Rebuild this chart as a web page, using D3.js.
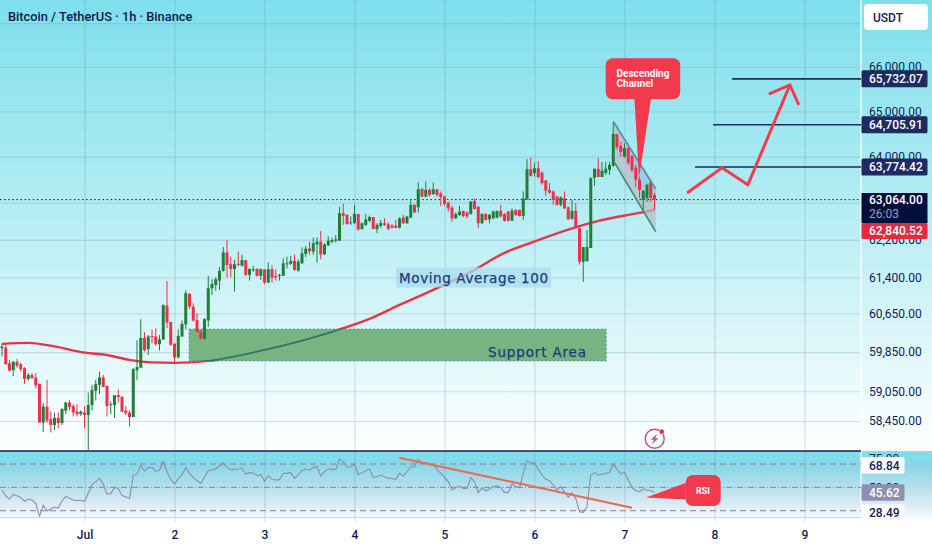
<!DOCTYPE html>
<html>
<head>
<meta charset="utf-8">
<title>Bitcoin / TetherUS 1h</title>
<style>
  html, body { margin: 0; padding: 0; background: #fff; }
  svg { display: block; font-family: Roboto, sans-serif; }
  .priceAxis path, .priceAxis line, .rsiAxis path, .rsiAxis line, .timeAxis path, .timeAxis line { display: none; }
  .grid path { display: none; }
  .grid line { stroke: #5f8aa0; stroke-opacity: 0.24; stroke-width: 1.2; }
  .note { font-family: "DejaVu Sans", sans-serif; font-size: 13.5px; fill: #1d3a78; font-weight: 500; stroke: #1d3a78; stroke-width: 0.25; }
</style>
<script src="https://d3js.org/d3.v7.min.js"></script>
</head>
<body>
<svg id="chart" width="932" height="550"></svg>
<script>
// hours counted from 1 Jul 00:00, first candle is hour -22
var firstHour = -22;

var opens = [59930,59940,59620,59480,59650,59600,59520,59300,59380,59330,59200,58420,58740,58490,58370,58510,58410,58660,58820,58750,58640,58590,
  58620,58570,58770,59060,59180,59330,59160,58770,58770,58970,58940,58660,58620,58530,59480,59530,60140,59910,60180,60170,60010,60110,60810,60470,60020,59740,60170,60420,61060,60790,60510,60270,60120,
  60500,61175,61245,61335,61540,61930,61680,61580,61690,61650,61765,61455,61560,61580,61435,61570,61295,61575,61435,61435,61435,61690,61690,61750,61545,61700,61900,62015,61950,62100,62160,61890,62080,62160,62180,62180,
  62770,62735,62555,62560,62755,62430,62520,62605,62685,62430,62495,62555,62535,62505,62505,62460,62675,62555,62675,62950,62900,63290,63130,63275,63185,63290,63200,63130,63000,62890,62660,62735,62820,62785,62755,63035,62915,62555,62755,62640,62660,62675,62820,62750,62805,62610,62840,62840,62710,63070,
  63725,63640,63745,63650,63480,63275,63240,63130,62950,63090,62900,62650,62820,62450,61730,61745,62025,63540,63735,63555,63645,63710,63800,64500,64235,63995,64190,64015,63755,63495,63055,63100,63450,63165];
var highs = [60030,60000,59690,59670,59710,59630,59540,59420,59420,59420,59200,58810,59280,58640,58620,58620,58710,58840,58870,58790,58790,58660,
  58750,59020,59180,59280,59450,59380,59160,58840,58970,59090,58940,58750,58660,59520,60090,60530,60260,60200,60310,60340,60200,60840,61330,60470,60030,60320,60500,61130,61070,60860,60650,60310,60550,
  61435,61365,61405,61620,62050,62195,61840,61770,61950,61880,61765,61595,61645,61595,61595,61570,61720,61660,61575,61480,61805,61840,61855,61890,61785,62040,62065,62160,62250,62250,62390,62125,62280,62245,62300,62910,
  62970,62750,62700,62950,62755,62570,62755,62720,62685,62555,62625,62660,62575,62540,62625,62685,62735,62710,63070,62965,63435,63325,63455,63310,63435,63295,63240,63150,63020,62935,62785,62925,62820,62805,63035,63090,62915,62770,62770,62755,62825,62825,62950,62770,62820,62875,62855,62855,63240,63945,
  63980,63870,63905,63675,63490,63420,63260,63145,63130,63240,62915,63060,62990,62450,62045,62410,63540,63735,63975,63885,63885,63885,64770,64500,64325,64300,64235,64040,63820,63560,63275,63405,63495,63210];
var lows = [59760,59590,59450,59360,59530,59450,59200,59260,59300,59110,58420,58230,58410,58220,58270,58310,58370,58590,58660,58540,58540,58550,
  58310,57870,58660,58860,58990,59130,58540,58590,58510,58820,58630,58570,58340,58530,59280,59520,59860,59790,60030,59980,59880,60100,60340,59980,59610,59720,60160,60310,60740,60480,60250,60100,60110,
  60370,61035,61125,61140,61525,61400,61405,61105,61630,61630,61435,61335,61520,61420,61350,61260,61280,61295,61335,61335,61435,61595,61665,61545,61525,61690,61830,61880,61880,61715,61785,61880,62065,62125,62145,62180,
  62520,62520,62520,62540,62390,62410,62495,62590,62425,62340,62460,62495,62410,62445,62445,62445,62540,62540,62660,62770,62785,63115,63115,63130,63165,63130,62925,62925,62805,62590,62645,62710,62685,62660,62735,62855,62445,62540,62610,62555,62640,62660,62675,62590,62590,62605,62710,62700,62625,63055,
  63565,63565,63530,63385,63145,63185,62950,62935,62915,62860,62625,62630,62450,61670,61310,61740,62025,63360,63555,63555,63600,63600,63780,64150,63995,63975,63820,63665,63340,63100,62775,63015,63015,62840];
var closes = [59960,59600,59470,59650,59570,59500,59300,59380,59320,59170,58420,58740,58460,58370,58510,58410,58690,58820,58730,58620,58590,58640,
  58570,58770,59080,59200,59330,59140,58750,58790,58970,58930,58640,58610,58530,59500,59540,60140,59890,60170,60170,60010,60110,60820,60460,60000,59740,60180,60430,61070,60790,60500,60260,60120,60530,
  61175,61265,61365,61540,61930,61665,61580,61680,61675,61770,61455,61580,61575,61435,61575,61295,61575,61400,61405,61455,61700,61700,61750,61560,61735,61910,62010,61960,62125,62160,61890,62100,62180,62195,62210,62770,
  62710,62540,62575,62755,62425,62555,62640,62685,62430,62520,62555,62520,62430,62460,62460,62660,62555,62700,62950,62785,63290,63130,63275,63165,63290,63165,63115,62970,62875,62660,62755,62805,62710,62700,63020,62860,62555,62755,62625,62735,62805,62820,62700,62605,62605,62825,62735,62710,63090,63725,
  63580,63745,63550,63420,63260,63215,63055,62950,63115,62875,62640,62820,62450,61730,62045,62045,63537,63735,63555,63690,63735,63820,64500,64210,64105,64190,63865,63710,63495,63275,63255,63385,63100,63064];

// moving average 100, read at a few hours along the curve
var maHours = [-22,-15,-8,0,6,12,18,24,33,48,66,76,84,93,103,112,119,129,137,148,152];
var maValues = [60017,60038,59965,59837,59790,59688,59637,59627,59668,59892,60266,60535,60825,61140,61520,61920,62134,62417,62605,62777,62840.52];

var rsiValues = [47.7,42.6,40,44,42.9,41.4,38,39.7,39.1,36.3,25.4,34.6,29.7,31.4,33.1,32.3,38.3,42.3,40.6,39.1,38.6,38.9,
  38,44.9,52.3,54.9,57.7,52.9,44.3,44.6,50,49.1,42.9,42,40.3,60.3,61.1,68.9,64,66.9,66.9,63.7,64.9,72.3,63.4,56.9,52.9,57.7,60.9,67.1,62,58.3,55.7,53.4,58.6,
  64.3,64.9,66,68.3,71.1,67.1,65.1,65.4,65.7,66.3,61.4,62.6,62.3,60,61.1,55.1,60,56.9,56.3,56.6,62,62,62.6,57.7,60.6,64.3,65.7,64.9,66.9,67.7,59.7,63.4,65.7,65.4,65.4,74.3,
  72,67.4,67.7,70,61.1,62.6,64,65.7,58.3,59.1,60.3,59.1,57.7,57.7,56.9,62,59.7,63.4,67.7,67.7,73.4,70,71.1,70,70,65.4,62,58.6,54.9,47.7,49.7,51.1,49.1,49.1,58.3,54.9,45.4,49.7,47.1,48.6,50.6,51.4,49.7,45.7,45.4,52.9,50.6,49.7,62,72.6,
  70.6,71.1,65.4,60.6,56.9,55.7,52,47.7,50.6,46.3,41.4,45.4,40.6,29.1,28.6,33.4,60.6,62.6,60.6,61.1,62,62.9,69.7,65.4,61.4,63.1,56.3,50,47.1,46.3,48.6,47.7,47.1,45.62];

var priceTicks = [67000,66000,65000,64000,63000,62200,61400,60650,59850,59050,58450];
var dayHours = [0,24,48,72,96,120,144,168,192];
var dayLabels = ["Jul","2","3","4","5","6","7","8","9"];
var rsiTicks = [75,50];
var rsiLevels = [70,50,30];

var lastPrice = 63064, maLast = 62840.52;
var targetLevels = [65732.07,64705.91,63774.42];
var targetStarts = [172.7,167.6,162.8];
var rsiLabels = [68.84,45.62,28.49];

// projected path and its arrow head, [hour, price]
var pathPoints = [[160.7,63209],[170,63755],[176.9,63384],[188.1,65594]];
var headPoints = [[182.5,65391],[188.1,65594],[190.5,65145]];
// channel corners, [hour, price]
var channelTop = [[141,64775],[152.3,63297]];
var channelBottom = [[141.4,63864],[152.3,62375]];
// bluish part of the channel under its top edge
var channelGlow = [[144.1,64258],[152.3,63297],[152.3,63100],[148,63493]];
// support zone, hours and prices
var zoneHours = [27.9,139.1], zonePrices = [60322,59668];
// rsi trend line, [hour, rsi]
var rsiTrend = [[83.9,75.4],[146,32.6]];

var svg = d3.select("#chart");
var axisX = 861, paneBottom = 451;

var x = d3.scaleLinear().domain([0,24]).range([84.5,174.5]);
var y = d3.scaleLog().domain([58450,66000]).range([421,67]);
var rsiY = d3.scaleLinear().domain([30,70]).range([510.7,464]);

var defs = svg.append("defs");

function gradient(id, stops) {
  var g = defs.append("linearGradient").attr("id", id).attr("x1",0).attr("x2",0).attr("y1",0).attr("y2",1);
  stops.forEach(function(s) { g.append("stop").attr("offset", s[0]).attr("stop-color", s[1]); });
}
gradient("mainBg", [[0,"#7edfec"],[0.5,"#b9eef4"],[1,"#ffffff"]]);
gradient("rsiBg", [[0,"#7ee0ea"],[0.2,"#88d6e8"],[0.55,"#b8e0ee"],[0.85,"#e6eef7"],[1,"#f8fbfc"]]);

defs.append("clipPath").attr("id","pane").append("rect").attr("width",axisX).attr("height",paneBottom);
defs.append("clipPath").attr("id","rsiPane").append("rect").attr("y",paneBottom).attr("width",axisX).attr("height",70);
defs.append("clipPath").attr("id","zoneClip").append("rect")
  .attr("x",x(zoneHours[0])).attr("y",y(zonePrices[0]))
  .attr("width",x(zoneHours[1])-x(zoneHours[0])).attr("height",y(zonePrices[1])-y(zonePrices[0]));

// backgrounds
svg.append("rect").attr("width",932).attr("height",paneBottom).attr("fill","url(#mainBg)");
svg.append("rect").attr("y",paneBottom).attr("width",932).attr("height",68).attr("fill","url(#rsiBg)");

// grid, done with axes with long ticks
svg.append("g").attr("class","grid")
  .attr("transform","translate(0,522)")
  .call(d3.axisBottom(x).tickValues(dayHours).tickSize(-522).tickFormat(""));
svg.append("g").attr("class","grid")
  .attr("clip-path","url(#pane)")
  .call(d3.axisRight(y).tickValues(priceTicks).tickSize(axisX).tickFormat(""));

svg.append("line").attr("x1",axisX).attr("x2",axisX).attr("y1",0).attr("y2",520)
  .attr("stroke","#fff").attr("stroke-width",1.2);

var pane = svg.append("g").attr("clip-path","url(#pane)");

// moving average, red over the whole length
var maPoints = maHours.map(function(h,i) { return [h, maValues[i]]; });
var maLine = d3.line()
  .x(function(d) { return x(d[0]); })
  .y(function(d) { return y(d[1]); })
  .curve(d3.curveMonotoneX);

pane.append("path").attr("d",maLine(maPoints)).attr("fill","none")
  .attr("stroke","#ea3346").attr("stroke-width",2.4);

// support zone sits on top of the average
pane.append("rect")
  .attr("x",x(zoneHours[0])).attr("y",y(zonePrices[0]))
  .attr("width",x(zoneHours[1])-x(zoneHours[0])).attr("height",y(zonePrices[1])-y(zonePrices[0]))
  .attr("fill","#78b382").attr("stroke","#4d8a8a").attr("stroke-width",1).attr("stroke-dasharray","2,2");
pane.append("path").attr("d",maLine(maPoints)).attr("fill","none")
  .attr("clip-path","url(#zoneClip)")
  .attr("stroke","#2f7468").attr("stroke-width",1.8);

// channel fill goes under the candles
var channelShape = channelTop.concat(channelBottom.slice().reverse());
var pricePoint = function(d) { return [x(d[0]), y(d[1])]; };
pane.append("path")
  .attr("d",d3.line()(channelShape.map(pricePoint)) + "Z")
  .attr("fill","#b9bccb").attr("fill-opacity",0.72);
pane.append("path")
  .attr("d",d3.line()(channelGlow.map(pricePoint)) + "Z")
  .attr("fill","#8fd0ee").attr("fill-opacity",0.8);

// last price dotted line
pane.append("line").attr("x1",0).attr("x2",axisX).attr("y1",y(lastPrice)).attr("y2",y(lastPrice))
  .attr("stroke","#0b1a44").attr("stroke-width",1).attr("stroke-dasharray","1.5,2.6");

// candles
var candles = opens.map(function(o,i) {
  return { hour: firstHour + i, open: o, high: highs[i], low: lows[i], close: closes[i] };
});
var candle = pane.selectAll(".candle").data(candles).enter().append("g").attr("class","candle")
  .attr("stroke",function(d) { return d.close >= d.open ? "#1f7f39" : "#f0304a"; })
  .attr("fill",function(d) { return d.close >= d.open ? "#1f7f39" : "#f0304a"; });
candle.append("line")
  .attr("x1",function(d) { return x(d.hour); }).attr("x2",function(d) { return x(d.hour); })
  .attr("y1",function(d) { return y(d.high); }).attr("y2",function(d) { return y(d.low); })
  .attr("stroke-width",1);
candle.append("rect")
  .attr("x",function(d) { return x(d.hour) - 1.5; }).attr("width",3)
  .attr("y",function(d) { return Math.min(y(d.open), y(d.close)); })
  .attr("height",function(d) { return Math.max(1, Math.abs(y(d.open) - y(d.close))); })
  .attr("stroke","none");

// channel edges
pane.append("path").attr("d",d3.line()(channelTop.map(pricePoint)))
  .attr("fill","none").attr("stroke","#5d8fa8").attr("stroke-width",1.8);
pane.append("path").attr("d",d3.line()(channelBottom.map(pricePoint)))
  .attr("fill","none").attr("stroke","#4b8c6c").attr("stroke-width",1.8);

// target levels
targetLevels.forEach(function(p,i) {
  pane.append("line").attr("x1",x(targetStarts[i])).attr("x2",axisX)
    .attr("y1",y(p)).attr("y2",y(p)).attr("stroke","#1c2a66").attr("stroke-width",1.6);
});

// projected path
var projStyle = function(sel) {
  sel.attr("fill","none").attr("stroke","#f43b4b").attr("stroke-width",3)
    .attr("stroke-linejoin","miter").attr("stroke-linecap","butt");
};
pane.append("path").attr("d",d3.line()(pathPoints.map(pricePoint))).call(projStyle);
pane.append("path").attr("d",d3.line()(headPoints.map(pricePoint))).call(projStyle);

// text notes
pane.append("rect").attr("x",396).attr("y",267.5).attr("width",155).attr("height",20)
  .attr("fill","#a9dcee").attr("fill-opacity",0.75);
pane.append("text").attr("class","note").attr("x",399).attr("y",283)
  .attr("textLength",149).attr("lengthAdjust","spacing").text("Moving Average 100");
pane.append("text").attr("class","note").attr("x",488).attr("y",357)
  .attr("textLength",98).attr("lengthAdjust","spacing").text("Support Area");

// descending channel callout
pane.append("path")
  .attr("d","M634.5,99 L639,178 L651,99 Z").attr("fill","#f23a4d");
pane.append("rect").attr("x",605.7).attr("y",58.3).attr("width",74.5).attr("height",41).attr("rx",7)
  .attr("fill","#f23a4d");
pane.append("text").attr("x",616.5).attr("y",76.5).attr("fill","#fff")
  .attr("font-size",10).attr("font-weight",700).text("Descending");
pane.append("text").attr("x",616.5).attr("y",87).attr("fill","#fff")
  .attr("font-size",10).attr("font-weight",700).text("Channel");

// lightning icon
var icon = svg.append("g").attr("transform","translate(654.7,438.7)");
icon.append("circle").attr("r",9.5).attr("fill","none").attr("stroke","#b9557c").attr("stroke-width",1.4);
icon.append("path").attr("d","M2.5,-5 L-4,1 L-0.5,1 L-3,5.5 L4,-0.5 L0.5,-0.5 Z").attr("fill","#b9557c");
icon.append("circle").attr("cx",7).attr("cy",-7).attr("r",3).attr("fill","#f2f9fb");
icon.append("circle").attr("cx",7).attr("cy",-7).attr("r",2.4).attr("fill","#ee2f45");

// pane separator
svg.append("line").attr("x1",0).attr("x2",axisX).attr("y1",paneBottom).attr("y2",paneBottom)
  .attr("stroke","#101f55").attr("stroke-width",1.3);

// rsi pane
var rsi = svg.append("g").attr("clip-path","url(#rsiPane)");
rsiLevels.forEach(function(v) {
  rsi.append("line").attr("x1",0).attr("x2",axisX).attr("y1",rsiY(v)).attr("y2",rsiY(v))
    .attr("stroke","#83849c").attr("stroke-width",1)
    .attr("stroke-dasharray", v === 50 ? "6,2,1,2" : "6,4");
});
svg.append("line").attr("x1",0).attr("x2",axisX).attr("y1",517.5).attr("y2",517.5)
  .attr("stroke","#c9dbe3").attr("stroke-width",1);

var rsiLine = d3.line()
  .x(function(d,i) { return x(firstHour + i); })
  .y(function(d) { return rsiY(d); });
rsi.append("path").attr("d",rsiLine(rsiValues)).attr("fill","none")
  .attr("stroke","#8b8dab").attr("stroke-width",1.1);

var trendPoint = function(d) { return [x(d[0]), rsiY(d[1])]; };
svg.append("path").attr("d",d3.line()(rsiTrend.map(trendPoint))).attr("fill","none")
  .attr("stroke","#f0674c").attr("stroke-width",2);

// rsi callout
svg.append("path").attr("d","M685.7,483 L646,497.5 L685.7,499.5 Z").attr("fill","#f23a4d");
svg.append("rect").attr("x",685.7).attr("y",475).attr("width",35).attr("height",31).attr("rx",7).attr("fill","#f23a4d");
svg.append("text").attr("x",703).attr("y",493.5).attr("text-anchor","middle").attr("fill","#fff")
  .attr("font-size",9).attr("font-weight",700).text("RSI");

// title
svg.append("text").attr("x",8).attr("y",21).attr("fill","#10194f")
  .attr("font-size",12.8).attr("font-weight",500).text("Bitcoin / TetherUS · 1h · Binance");

// axes
var priceFmt = d3.format(",.2f");
var priceAxis = svg.append("g").attr("class","priceAxis")
  .attr("transform","translate(" + axisX + ",0)")
  .call(d3.axisRight(y).tickValues(priceTicks).tickSize(0).tickPadding(8).tickFormat(priceFmt));
priceAxis.selectAll("text").attr("font-size",12).attr("fill","#122057").attr("font-family","Roboto");

var rsiAxis = svg.append("g").attr("class","rsiAxis")
  .attr("transform","translate(" + axisX + ",0)")
  .call(d3.axisRight(rsiY).tickValues(rsiTicks).tickSize(0).tickPadding(8).tickFormat(priceFmt));
rsiAxis.selectAll("text").attr("font-size",12).attr("fill","#122057").attr("font-family","Roboto");

var timeAxis = svg.append("g").attr("class","timeAxis")
  .attr("transform","translate(0,527)")
  .call(d3.axisBottom(x).tickValues(dayHours).tickSize(0).tickPadding(3)
    .tickFormat(function(d,i) { return dayLabels[i]; }));
timeAxis.selectAll("text").attr("font-size",12).attr("font-weight",500).attr("fill","#122057").attr("font-family","Roboto");

// price tags on the axis
function tag(cy, label, fill, color, h, w) {
  svg.append("rect").attr("x",axisX + 0.5).attr("y",cy - h / 2).attr("width",w || 66).attr("height",h)
    .attr("rx",1.5).attr("fill",fill);
  svg.append("text").attr("x",axisX + 8).attr("y",cy + 4.3).attr("font-size",12).attr("font-weight",500)
    .attr("fill",color).text(label);
}
var tagColors = ["#1f2a63","#1f2a63","#1f2a63"];
targetLevels.forEach(function(p,i) { tag(y(p), priceFmt(p), tagColors[i], "#ffffff", 17); });

// last price tag has the countdown under it
svg.append("rect").attr("x",axisX + 0.5).attr("y",193).attr("width",66).attr("height",30).attr("fill","#040f3d");
svg.append("text").attr("x",axisX + 8).attr("y",204.3).attr("font-size",12).attr("font-weight",500)
  .attr("fill","#fff").text(priceFmt(lastPrice));
svg.append("text").attr("x",axisX + 8).attr("y",218).attr("font-size",12)
  .attr("fill","#98a0b6").text("26:03");
tag(231, priceFmt(maLast), "#e42a3e", "#ffffff", 16);

// rsi tags
tag(rsiY(rsiLabels[0]), priceFmt(rsiLabels[0]), "#ffffff", "#122057", 16.5, 43);
tag(rsiY(rsiLabels[1]), priceFmt(rsiLabels[1]), "#8d90ae", "#ffffff", 16.5, 43);
tag(rsiY(rsiLabels[2]), priceFmt(rsiLabels[2]), "#ffffff", "#122057", 16.5, 43);

// currency button
svg.append("rect").attr("x",864).attr("y",4).attr("width",64).attr("height",26).attr("rx",4).attr("fill","#fff");
svg.append("text").attr("x",873).attr("y",21.5).attr("font-size",12).attr("font-weight",500).attr("fill","#122057").text("USDT");
</script>
</body>
</html>
